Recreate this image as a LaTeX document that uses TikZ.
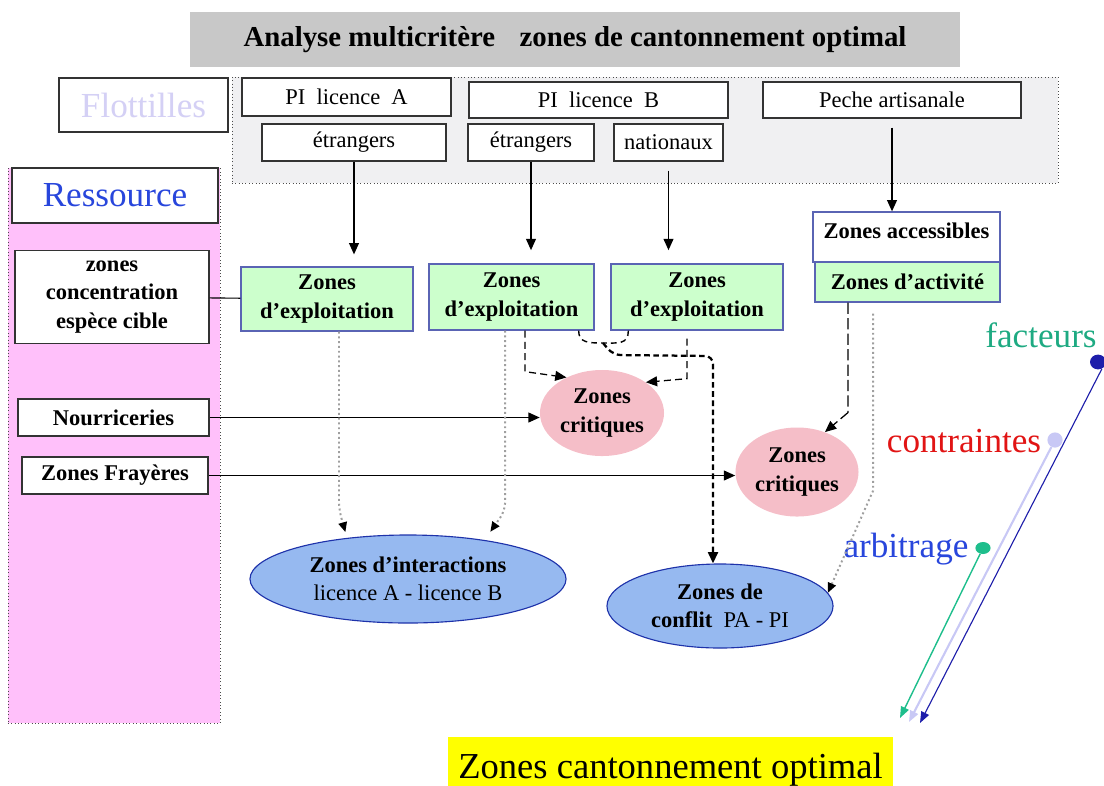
\documentclass[tikz,border=0pt]{standalone}
\usepackage{fontspec}
\setmainfont{Liberation Serif}
\usetikzlibrary{arrows.meta,shapes.geometric}

\definecolor{titlegray}{RGB}{200,200,200}
\definecolor{fleetgray}{RGB}{240,240,242}
\definecolor{bandpink}{RGB}{255,192,250}
\definecolor{zonegreen}{RGB}{204,255,204}
\definecolor{zoneedge}{RGB}{90,100,180}
\definecolor{critpink}{RGB}{245,190,200}
\definecolor{interblue}{RGB}{150,185,240}
\definecolor{interedge}{RGB}{30,50,170}
\definecolor{flotlav}{RGB}{212,208,245}
\definecolor{ressblue}{RGB}{40,70,220}
\definecolor{factteal}{RGB}{30,170,130}
\definecolor{contred}{RGB}{225,20,20}
\definecolor{arbiblue}{RGB}{40,70,220}
\definecolor{dotnavy}{RGB}{30,30,170}
\definecolor{dotlav}{RGB}{200,200,245}
\definecolor{dotteal}{RGB}{30,190,140}
\definecolor{optyellow}{RGB}{255,255,0}

\newcommand{\boxfont}{\fontsize{16}{20}\selectfont}
\newcommand{\bigfont}{\fontsize{25}{30}\selectfont}

\tikzset{
  fleetbox/.style={draw=black!80, fill=white, line width=0.9pt, inner sep=0pt, font=\boxfont},
  resbox/.style={draw=black!80, fill=white, line width=0.9pt, inner sep=0pt, font=\boxfont\bfseries, align=center},
  zonebox/.style={draw=zoneedge, fill=zonegreen, line width=0.9pt, inner sep=0pt, font=\boxfont\bfseries, align=center},
  critzone/.style={ellipse, fill=critpink, inner sep=0pt, font=\boxfont\bfseries, align=center},
  resultzone/.style={ellipse, draw=interedge, fill=interblue, line width=0.8pt, inner sep=0pt, font=\boxfont, align=center},
  flow/.style={-{Triangle[length=8pt,width=7pt]}, line width=0.9pt},
  dashflow/.style={flow, dash pattern=on 5pt off 3pt},
  dotflow/.style={-{Triangle[length=7pt,width=6pt,color=black]}, draw=gray!75, line width=1.4pt, dotted},
  factor/.style={font=\bigfont, inner sep=0pt},
  factdot/.style={ellipse, inner sep=0pt}
}

\begin{document}
\begin{tikzpicture}[x=0.025cm, y=-0.025cm]
\useasboundingbox (0,0) rectangle (1104,785);

% backgrounds
\node[draw=black!70, dotted, fill=fleetgray, minimum width=20.65cm, minimum height=2.65cm] (fleets) at (645,130) {};
\node[draw=black!70, dotted, fill=bandpink, minimum width=5.3cm, minimum height=13.875cm] (band) at (114,445.5) {};

% title
\node[fill=titlegray, minimum width=19.25cm, minimum height=1.375cm, font=\fontsize{20.5}{24}\selectfont\bfseries] (title) at (575,39.5) {Analyse multicritère\hspace{0.85em}zones de cantonnement optimal};

% flottilles
\node[fleetbox, minimum width=4.225cm, minimum height=1.35cm, font=\bigfont, text=flotlav] (flot) at (143.5,105) {Flottilles};
\node[fleetbox, minimum width=5.225cm, minimum height=0.95cm] (pila) at (346.5,97) {PI~~licence~~A};
\node[fleetbox, minimum width=4.6cm, minimum height=0.925cm] (etra) at (354,142.5) {étrangers};
\node[fleetbox, minimum width=6.475cm, minimum height=0.9cm] (pilb) at (598.5,100) {PI~~licence~~B};
\node[fleetbox, minimum width=3.15cm, minimum height=0.925cm] (etrb) at (531,142.5) {étrangers};
\node[fleetbox, minimum width=2.725cm, minimum height=0.925cm] (nat) at (668.5,142.5) {nationaux};
\node[fleetbox, minimum width=6.45cm, minimum height=0.9cm] (peche) at (892,100) {Peche artisanale};

% ressource
\node[fleetbox, minimum width=5.15cm, minimum height=1.375cm, font=\bigfont, text=ressblue] (ress) at (115,195.5) {Ressource};
\node[resbox, minimum width=4.85cm, minimum height=2.325cm] (conc) at (112,297) {zones\\concentration\\espèce cible};
\node[resbox, minimum width=4.775cm, minimum height=0.925cm] (nour) at (113.5,417.5) {Nourriceries};
\node[resbox, minimum width=4.65cm, minimum height=0.925cm] (fray) at (115,475.5) {Zones Frayères};

% zones
\node[zonebox, minimum width=4.3cm, minimum height=1.6cm] (exp1) at (327,299) {Zones\\d’exploitation};
\node[zonebox, minimum width=4.125cm, minimum height=1.65cm] (exp2) at (511.5,297) {Zones\\d’exploitation};
\node[zonebox, minimum width=4.3cm, minimum height=1.65cm] (exp3) at (697,297) {Zones\\d’exploitation};
\node[zonebox, fill=white, minimum width=4.675cm, minimum height=1.25cm, text height=11pt, text depth=9.5pt] (acc) at (906.5,237) {Zones accessibles};
\node[zonebox, minimum width=4.625cm, minimum height=1cm] (act) at (907.5,282) {Zones d’activité};

\node[critzone, minimum width=3.1cm, minimum height=2.15cm] (crit1) at (602,413) {Zones\\critiques};
\node[critzone, minimum width=3.075cm, minimum height=2.225cm] (crit2) at (797,472) {Zones\\critiques};
\node[resultzone, minimum width=7.9cm, minimum height=2.2cm] (inter) at (408,579) {\textbf{Zones d’interactions}\\licence A - licence B};
\node[resultzone, minimum width=5.65cm, minimum height=2.1cm] (conf) at (720,606) {\textbf{Zones de}\\\textbf{conflit}~~PA - PI};

\node[fill=optyellow, minimum width=11.125cm, minimum height=1.65cm, font=\fontsize{26}{30}\selectfont, inner sep=0pt] (opt) at (670.5,770) {Zones cantonnement optimal};

% facteurs, contraintes, arbitrage
\node[factor, text=factteal] (fact) at (1041,335) {facteurs};
\node[factor, text=contred] (cont) at (964,441) {contraintes};
\node[factor, text=arbiblue] (arbi) at (906,549) {arbitrage};
\node[factdot, fill=dotnavy, minimum width=0.4cm, minimum height=0.37cm] (fdot) at (1098,362) {};
\node[factdot, fill=dotlav, minimum width=0.38cm, minimum height=0.38cm] (cdot) at (1055,440) {};
\node[factdot, fill=dotteal, minimum width=0.38cm, minimum height=0.3cm] (adot) at (983,548) {};
\coordinate (fend) at (920,723);
\coordinate (cend) at (909,722);
\coordinate (aend) at (900,718);
\draw[-{Triangle[length=8pt,width=6pt]}, dotlav, line width=1.5pt] (cdot) -- (cend);
\draw[-{Triangle[length=8pt,width=6pt]}, dotnavy, line width=0.8pt] (fdot.-60) -- (fend);
\draw[-{Triangle[length=8pt,width=6pt]}, dotteal, line width=1pt] (adot) -- (aend);

% arrows from the fleets
\draw[flow, shorten >=0.3cm] (etra) -- (etra |- exp1.north);
\draw[flow, shorten >=0.33cm] (etrb) -- (etrb |- exp2.north);
\draw[flow, shorten <=0.225cm, shorten >=0.33cm] (nat) -- (nat |- exp3.north);
\draw[flow, shorten <=0.225cm] (peche) -- (peche |- acc.north);

% ressource links
\draw[line width=0.8pt] (conc) -- (exp1);
\draw[flow, line width=0.8pt] (nour) -- (nour -| crit1.west);
\draw[flow, line width=0.8pt] (fray) -- (fray -| crit2.west);

% interactions
\draw[dotflow, rounded corners=0.2cm, shorten >=0.15cm] ([xshift=0.3cm]exp1.south) -- ++(0,178) -- (inter.146);
\draw[dotflow, rounded corners=0.2cm, shorten >=0.25cm] ([xshift=-0.16cm]exp2.south) -- ++(0,180) -- (inter.27);
\draw[dotflow, shorten <=0.275cm] ([xshift=-0.86cm]act.south) -- ++(0,188) -- (conf.7);

% critical zones
\draw[dashflow] ([xshift=0.34cm]exp2.south) -- ++(0,41) -- (crit1.135);
\draw[dashflow, shorten <=0.2cm] ([xshift=-0.25cm]exp3.south) -- ++(0,48) -- (crit1.35);
\draw[dashflow, dash pattern=on 8pt off 3pt] ([xshift=-1.49cm]act.south) -- ++(0,110) -- (crit2.55);

% conflict
\coordinate (dip) at (603,343);
\coordinate (turn) at (713,356);
\draw[line width=1pt, dash pattern=on 4pt off 3pt] ([xshift=-0.4cm]exp2.south east) .. controls +(0,12) and +(-15,0) .. (dip) .. controls +(15,0) and +(0,14) .. ([xshift=0.45cm]exp3.south west);
\draw[line width=1.6pt, dash pattern=on 4pt off 2.5pt, -{Triangle[length=8pt,width=7pt]}, rounded corners=0.2cm] (dip) -- ++(10,12) -- (turn) -- (turn |- conf.north);

\end{tikzpicture}
\end{document}
